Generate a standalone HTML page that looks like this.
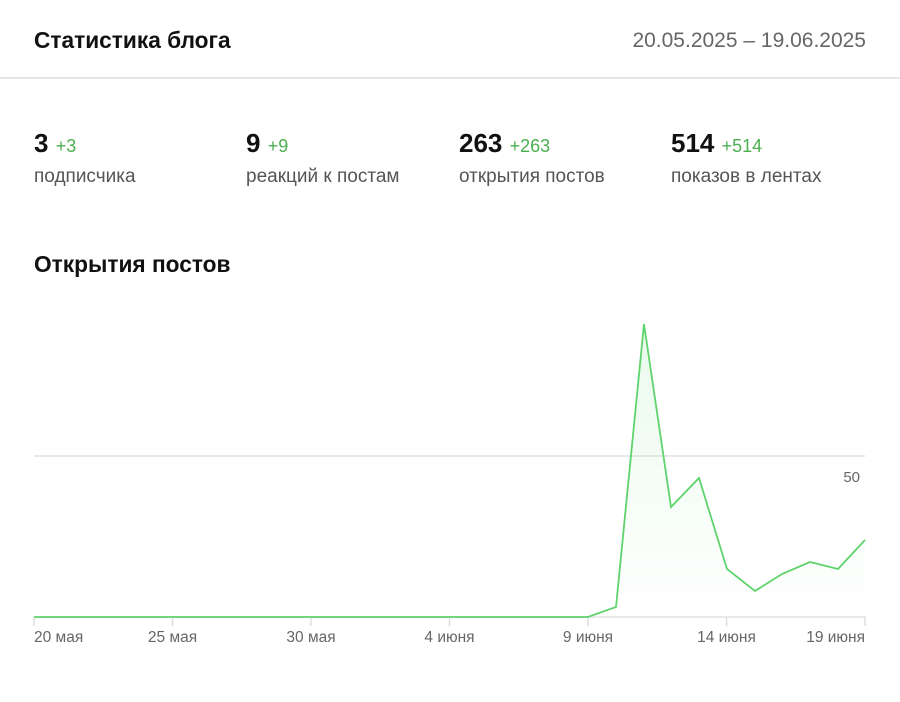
<!DOCTYPE html><html><head><meta charset="utf-8"><style>
body{margin:0;width:900px;height:702px;background:#fff;font-family:"Liberation Sans",sans-serif;position:relative;overflow:hidden}
.a{position:absolute;white-space:nowrap}
.t{font-size:22.7px;color:#111;font-weight:bold}
.n{font-size:26px;color:#111;font-weight:bold}
.n span{font-size:18px;color:#4caf50;font-weight:normal}
.l{font-size:19px;color:#555}
</style></head><body>
<div class="a t" style="left:34px;top:27px">Статистика блога</div>
<div class="a" style="right:34px;top:29px;font-size:21px;color:#666">20.05.2025 – 19.06.2025</div>
<div class="a" style="left:0;top:77px;width:900px;height:2px;background:#e6e6e6"></div>
<div class="a n" style="left:34px;top:128px">3 <span>+3</span></div>
<div class="a l" style="left:34px;top:166px">подписчика</div>
<div class="a n" style="left:246px;top:128px">9 <span>+9</span></div>
<div class="a l" style="left:246px;top:166px">реакций к постам</div>
<div class="a n" style="left:459px;top:128px">263 <span>+263</span></div>
<div class="a l" style="left:459px;top:166px">открытия постов</div>
<div class="a n" style="left:671px;top:128px">514 <span>+514</span></div>
<div class="a l" style="left:671px;top:166px">показов в лентах</div>
<div class="a t" style="left:34px;top:251px">Открытия постов</div>
<svg class="a" style="left:0;top:0" width="900" height="702">
<defs><linearGradient id="g" x1="0" y1="0" x2="0" y2="1"><stop offset="0" stop-color="#4cd964" stop-opacity=".12"/><stop offset="1" stop-color="#4cd964" stop-opacity="0"/></linearGradient></defs>
<line x1="34" y1="456" x2="865" y2="456" stroke="#e2e2e2" stroke-width="1.5"/>
<line x1="34" y1="617" x2="865" y2="617" stroke="#e2e2e2" stroke-width="1.5"/>
<g stroke="#ddd" stroke-width="1.5"><line x1="34" y1="617" x2="34" y2="626"/><line x1="172.5" y1="617" x2="172.5" y2="626"/><line x1="311" y1="617" x2="311" y2="626"/><line x1="449.5" y1="617" x2="449.5" y2="626"/><line x1="588" y1="617" x2="588" y2="626"/><line x1="726.5" y1="617" x2="726.5" y2="626"/><line x1="865" y1="617" x2="865" y2="626"/></g>
<polygon fill="url(#g)" points="588,617 616,607 644,324 671,507 699,478 727,569 755,591 782,574 810,562 838,569 865,540 865,617"/>
<polyline fill="none" stroke="#5fd36e" stroke-width="1.8" points="34,617 588,617 616,607 644,324 671,507 699,478 727,569 755,591 782,574 810,562 838,569 865,540"/>
<text x="860" y="482" text-anchor="end" font-size="15" fill="#666" font-family="Liberation Sans">50</text>
<g font-size="15.5" fill="#666" font-family="Liberation Sans">
<text x="34" y="642">20 мая</text>
<text x="172.5" y="642" text-anchor="middle">25 мая</text>
<text x="311" y="642" text-anchor="middle">30 мая</text>
<text x="449.5" y="642" text-anchor="middle">4 июня</text>
<text x="588" y="642" text-anchor="middle">9 июня</text>
<text x="726.5" y="642" text-anchor="middle">14 июня</text>
<text x="865" y="642" text-anchor="end">19 июня</text></g>
</svg>
</body></html>
